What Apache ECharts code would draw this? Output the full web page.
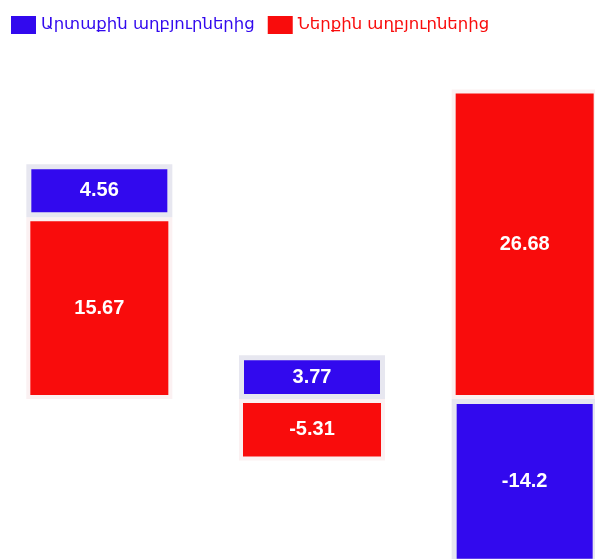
<!DOCTYPE html>
<html><head><meta charset="utf-8">
<script src="https://cdn.jsdelivr.net/npm/echarts@6/dist/echarts.min.js"></script>
<style>html,body{margin:0;padding:0;background:#fff;overflow:hidden;width:595px;height:559px}#c{width:638px;height:573px;margin-left:-7px}</style>
</head><body><div id="c"></div>
<script>
const categories = ['A', 'B', 'C'];
const externalName = 'Արտաքին աղբյուրներից';
const internalName = 'Ներքին աղբյուրներից';
const externalValues = [4.56, 3.77, -14.2];
const internalValues = [15.67, -5.31, 26.68];

const BLUE = '#3209ee';
const RED = '#f90c0c';

const chart = echarts.init(document.getElementById('c'), null, {renderer: 'canvas'});
const labelStyle = {show: true, position: 'inside', color: '#fff', fontFamily: 'Liberation Sans, Arial, sans-serif', fontWeight: 'bold', fontSize: 20};
chart.setOption({
  backgroundColor: '#ffffff',
  animation: false,
  legend: {
    left: 13, top: 11, itemWidth: 25, itemHeight: 18, itemGap: 13, icon: 'rect',
    itemStyle: {borderWidth: 0},
    textStyle: {fontFamily: 'DejaVu Sans, sans-serif', fontSize: 16.5},
    data: [
      {name: externalName, textStyle: {color: BLUE}},
      {name: internalName, textStyle: {color: RED}}
    ]
  },
  grid: {left: 0, right: 0, top: 51, bottom: 0, containLabel: false},
  xAxis: {type: 'category', data: categories, show: false},
  yAxis: {type: 'value', min: -15, max: 30, show: false, splitLine: {show: false}},
  series: [
    {
      name: internalName, type: 'bar', stack: 's', data: internalValues,
      barWidth: 146,
      itemStyle: {color: RED, borderColor: '#fbf1f2', borderWidth: 4},
      label: labelStyle
    },
    {
      name: externalName, type: 'bar', stack: 's', data: externalValues,
      barWidth: 146,
      itemStyle: {color: BLUE, borderColor: '#e7e7f0', borderWidth: 5},
      label: labelStyle
    }
  ]
});
</script></body></html>
